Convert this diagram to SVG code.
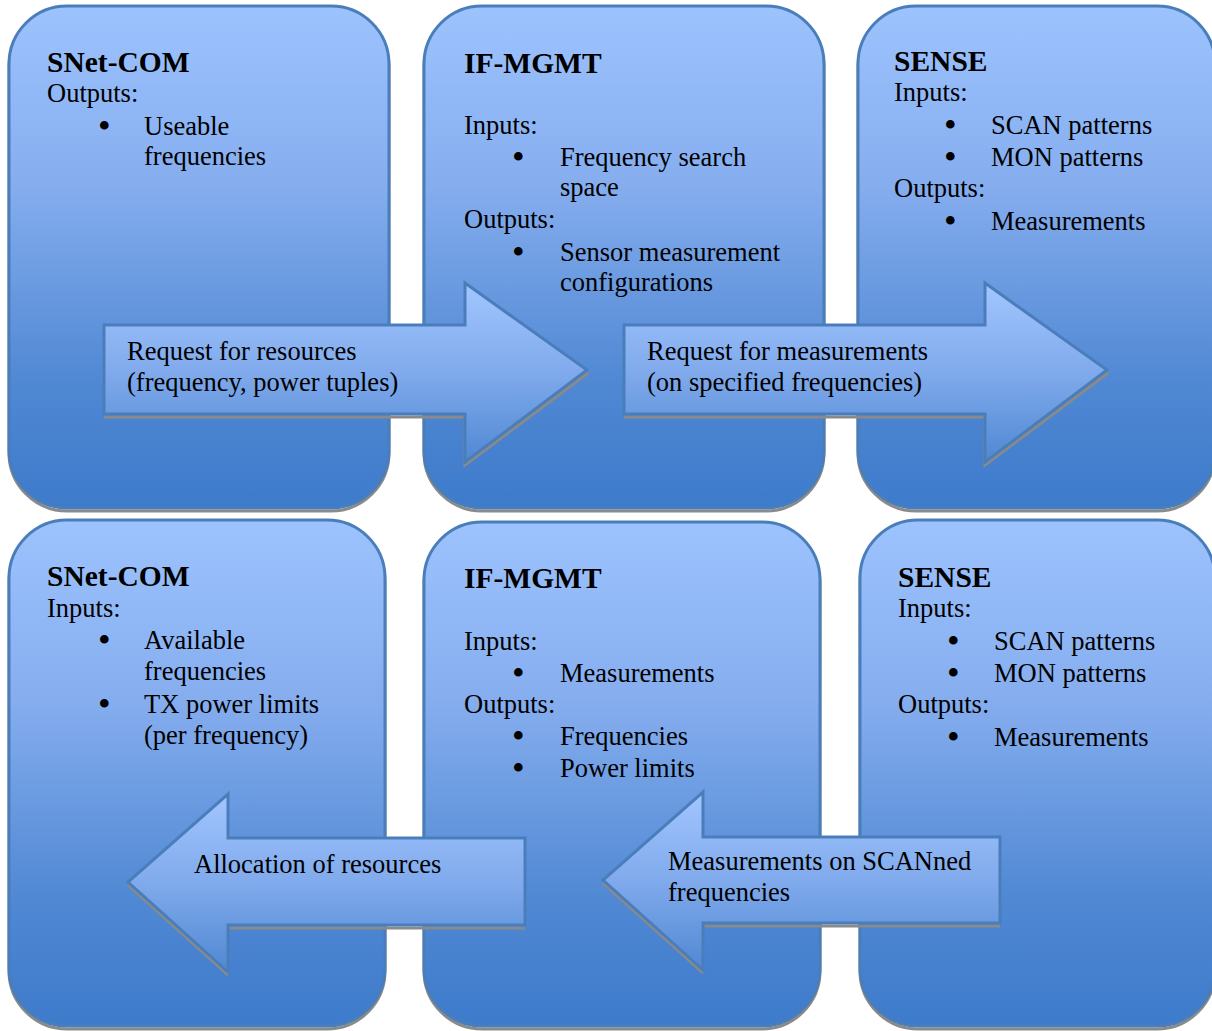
<svg xmlns="http://www.w3.org/2000/svg" width="1212" height="1031" viewBox="0 0 1212 1031">
<defs>
<linearGradient id="gBox" x1="0" y1="0" x2="0" y2="1">
<stop offset="0" stop-color="#9DC3FE"/>
<stop offset="0.35" stop-color="#86AEEF"/>
<stop offset="0.75" stop-color="#5088D3"/>
<stop offset="1" stop-color="#3D7BCB"/>
</linearGradient>
<linearGradient id="gArr" x1="0" y1="0" x2="0" y2="1">
<stop offset="0" stop-color="#A2C6FF"/>
<stop offset="0.5" stop-color="#80AAEC"/>
<stop offset="1" stop-color="#5088D2"/>
</linearGradient>
</defs>
<style>
.box{fill:url(#gBox);stroke:#4A7EBB;stroke-width:3}
.sh{fill:none;stroke:#8A8A8A;stroke-width:3}
.arr{fill:url(#gArr);stroke:#4A7EBB;stroke-width:3}
text{font-family:"Liberation Serif","Times New Roman",serif;font-size:26.5px;fill:#000}
.t{font-weight:bold;font-size:29.5px}
.b{font-size:36px}
</style>
<g id="box1"><rect class="sh" x="9" y="9" width="380" height="502" rx="58"/><rect class="box" x="9" y="6" width="380" height="502" rx="58"/>
<text class="t" x="47" y="72">SNet-COM</text><text x="47" y="102">Outputs:</text>
<text class="b" x="98" y="138">•</text><text x="144" y="135">Useable</text><text x="144" y="165">frequencies</text></g>
<g id="box2"><rect class="sh" x="424" y="9" width="400" height="502" rx="58"/><rect class="box" x="424" y="6" width="400" height="502" rx="58"/>
<text class="t" x="464" y="73">IF-MGMT</text><text x="464" y="134">Inputs:</text>
<text class="b" x="512" y="169">•</text><text x="560" y="166">Frequency search</text><text x="560" y="196">space</text>
<text x="464" y="228">Outputs:</text>
<text class="b" x="512" y="264">•</text><text x="560" y="261">Sensor measurement</text><text x="560" y="291">configurations</text></g>
<g id="box3"><rect class="sh" x="858" y="9" width="357" height="502" rx="58"/><rect class="box" x="858" y="6" width="357" height="502" rx="58"/>
<text class="t" x="894" y="71">SENSE</text><text x="894" y="101">Inputs:</text>
<text class="b" x="944" y="137">•</text><text x="991" y="134">SCAN patterns</text>
<text class="b" x="944" y="169">•</text><text x="991" y="166">MON patterns</text>
<text x="894" y="197">Outputs:</text>
<text class="b" x="944" y="233">•</text><text x="991" y="230">Measurements</text></g>
<g id="box4"><rect class="sh" x="9" y="523" width="376" height="506" rx="58"/><rect class="box" x="9" y="520" width="376" height="506" rx="58"/>
<text class="t" x="47" y="586">SNet-COM</text><text x="47" y="617">Inputs:</text>
<text class="b" x="98" y="652">•</text><text x="144" y="649">Available</text><text x="144" y="680">frequencies</text>
<text class="b" x="98" y="716">•</text><text x="144" y="713">TX power limits</text><text x="144" y="744">(per frequency)</text></g>
<g id="box5"><rect class="sh" x="424" y="525" width="396" height="504" rx="58"/><rect class="box" x="424" y="522" width="396" height="504" rx="58"/>
<text class="t" x="464" y="588">IF-MGMT</text><text x="464" y="650">Inputs:</text>
<text class="b" x="512" y="685">•</text><text x="560" y="682">Measurements</text>
<text x="464" y="713">Outputs:</text>
<text class="b" x="512" y="748">•</text><text x="560" y="745">Frequencies</text>
<text class="b" x="512" y="780">•</text><text x="560" y="777">Power limits</text></g>
<g id="box6"><rect class="sh" x="860" y="523" width="355" height="506" rx="58"/><rect class="box" x="860" y="520" width="355" height="506" rx="58"/>
<text class="t" x="898" y="587">SENSE</text><text x="898" y="617">Inputs:</text>
<text class="b" x="947" y="653">•</text><text x="994" y="650">SCAN patterns</text>
<text class="b" x="947" y="685">•</text><text x="994" y="682">MON patterns</text>
<text x="898" y="713">Outputs:</text>
<text class="b" x="947" y="749">•</text><text x="994" y="746">Measurements</text></g>
<g id="connectors">
<g id="arrow1"><path class="sh" d="M104 417 H465 V465 L588 373"/><path class="arr" d="M104 325 H465 V283 L587 370 L465 462 V414 H104 Z"/>
<text x="127" y="360">Request for resources</text><text x="127" y="391">(frequency, power tuples)</text></g>
<g id="arrow2"><path class="sh" d="M624 417 H985 V465 L1108 373"/><path class="arr" d="M624 325 H985 V283 L1107 370 L985 462 V414 H624 Z"/>
<text x="647" y="360">Request for measurements</text><text x="647" y="391">(on specified frequencies)</text></g>
<g id="arrow3"><path class="sh" d="M128 885 L228 975 M228 928 H525"/><path class="arr" d="M525 838 H228 V794 L128 882 L228 972 V925 H525 Z"/>
<text x="194" y="873">Allocation of resources</text></g>
<g id="arrow4"><path class="sh" d="M603 883 L703 973 M703 926 H1000"/><path class="arr" d="M1000 837 H703 V792 L603 880 L703 970 V923 H1000 Z"/>
<text x="668" y="870">Measurements on SCANned</text><text x="668" y="901">frequencies</text></g>
</g>
</svg>
